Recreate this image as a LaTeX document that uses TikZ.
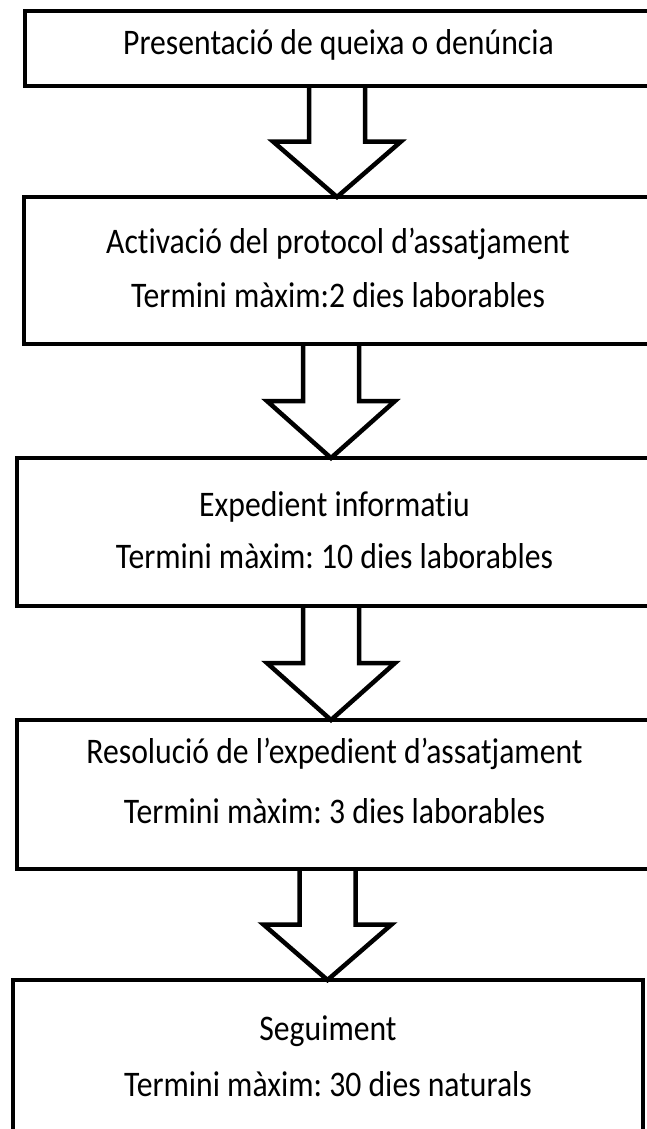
\documentclass[tikz,border=0pt]{standalone}
\usepackage{fontspec}
\setmainfont{Carlito}
\newfontfamily\boxfont[FakeStretch=0.88, Ligatures=NoCommon]{Carlito}
\frenchspacing
\usetikzlibrary{calc}
\begin{document}
\begin{tikzpicture}[x=1pt,y=-1pt]
  \tikzset{
    stepbox/.style={draw, line width=4.5pt, outer sep=0pt, inner sep=0pt},
    steptext/.style={anchor=base, inner sep=0pt, font=\boxfont\fontsize{36}{42}\selectfont},
    blockarrow/.style={draw, line width=4.5pt},
  }
  % hollow arrow: x of the axis, from box, to box
  \def\blockarrow#1#2#3{%
    \draw[blockarrow] let \p1=(#2.south), \p2=(#3.north) in
      (#1-28,\y1) -- (#1-28,{(\y1+\y2)/2}) -- (#1-64,{(\y1+\y2)/2}) -- (#1,\y2)
      -- (#1+64,{(\y1+\y2)/2}) -- (#1+28,{(\y1+\y2)/2}) -- (#1+28,\y1);}
  \useasboundingbox (0,0) rectangle (647,1129);
  \clip (0,0) rectangle (647,1129);
  % boxes
  \node[stepbox, minimum width=627pt, minimum height=75pt] (queixa) at (338.5,48.5) {};
  \node[stepbox, minimum width=628pt, minimum height=147pt] (activacio) at (338,270.5) {};
  \node[stepbox, minimum width=635pt, minimum height=148pt] (expedient) at (334.5,532) {};
  \node[stepbox, minimum width=635pt, minimum height=149pt] (resolucio) at (334.5,794.5) {};
  \node[stepbox, minimum width=630pt, minimum height=160pt] (seguiment) at (328,1060) {};
  % texts
  \node[steptext] (queixa-t) at ($(queixa.north)+(0,44)$) {Presentació de queixa o denúncia};
  \node[steptext] (activacio-t) at ($(activacio.north)+(0,56)$) {Activació del protocol d’assatjament};
  \node[steptext] (activacio-d) at ($(activacio-t.base)+(0,54)$) {Termini màxim:2 dies laborables};
  \node[steptext] (expedient-t) at ($(expedient.north)+(0,58)$) {Expedient informatiu};
  \node[steptext] (expedient-d) at ($(expedient-t.base)+(0,52)$) {Termini màxim: 10 dies laborables};
  \node[steptext] (resolucio-t) at ($(resolucio.north)+(0,43)$) {Resolució de l’expedient d’assatjament};
  \node[steptext] (resolucio-d) at ($(resolucio-t.base)+(0,60)$) {Termini màxim: 3 dies laborables};
  \node[steptext] (seguiment-t) at ($(seguiment.north)+(0,60)$) {Seguiment};
  \node[steptext] (seguiment-d) at ($(seguiment-t.base)+(0,56)$) {Termini màxim: 30 dies naturals};
  % arrows
  \blockarrow{337}{queixa}{activacio}
  \blockarrow{331}{activacio}{expedient}
  \blockarrow{331}{expedient}{resolucio}
  \blockarrow{327.5}{resolucio}{seguiment}
\end{tikzpicture}
\end{document}
